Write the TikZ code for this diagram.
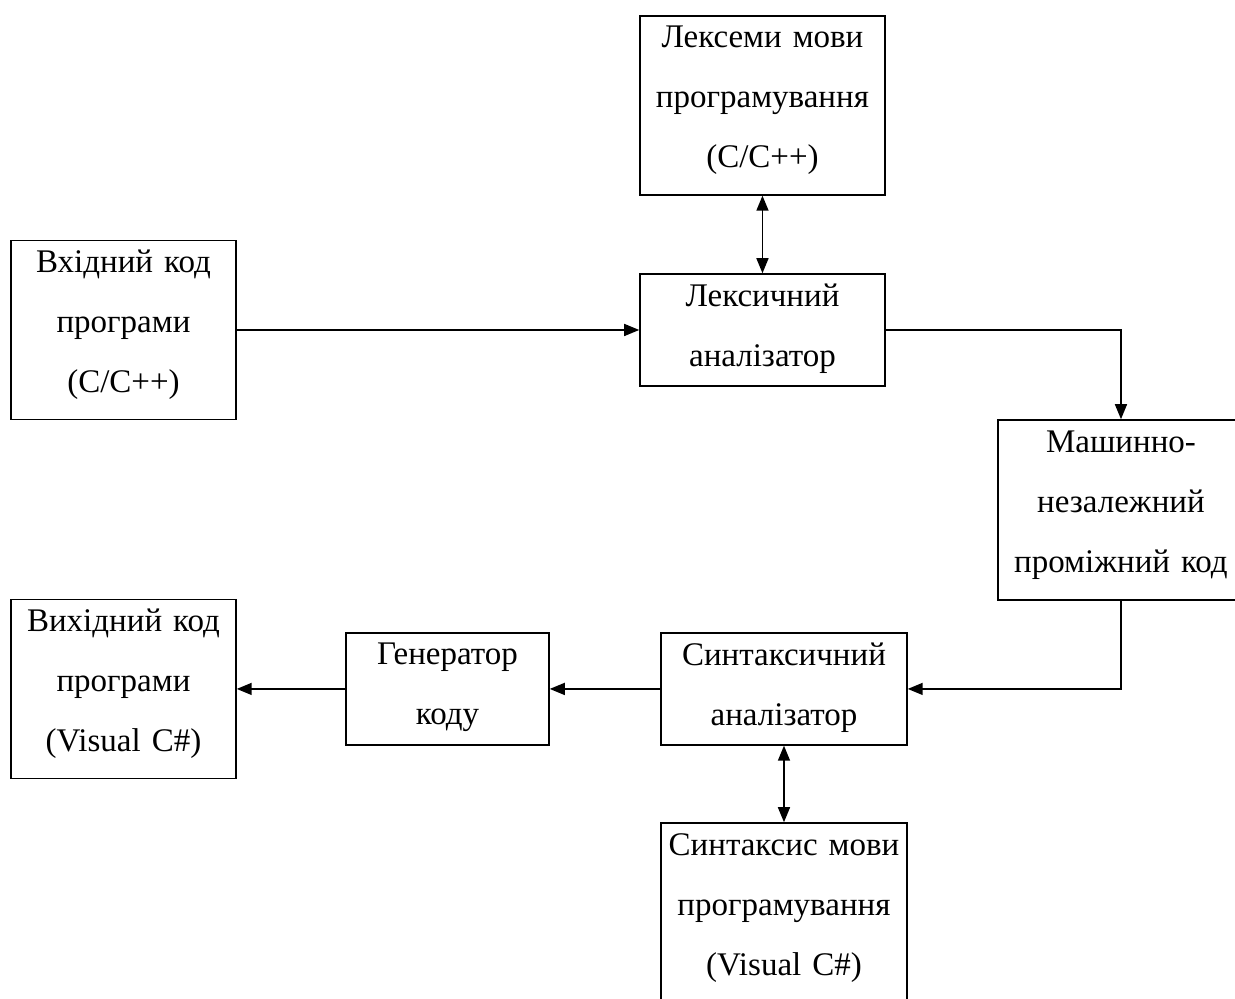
\documentclass[tikz,border=0pt]{standalone}
\usepackage{fontspec}
\setmainfont{Liberation Serif}
\usetikzlibrary{arrows.meta}

\tikzset{
  block/.style 2 args={draw,line width=0.75pt,inner sep=0pt,align=center,
    minimum width=#1,text width=#1,minimum height=#2,
    font=\fontsize{16.5}{30}\selectfont},
  tall/.style={execute at end node={\par\vspace{5pt}}},
  short/.style={execute at end node={\par\vspace{1.5pt}}},
}

\begin{document}
\begin{tikzpicture}[>={Triangle[length=7.5pt,width=6pt]},line width=0.75pt]
    \useasboundingbox (0,0) rectangle (21.703,17.555);

    \node[block={112.5pt}{89.5pt},tall] (src) at (2.170,11.756) {Вхідний код\\програми\\(C/C++)};
    \node[block={122.5pt}{89.5pt},tall] (lexemes) at (13.399,15.702) {Лексеми мови\\програмування\\(C/C++)};
    \node[block={122.5pt}{56pt},short] (lexer) at (13.399,11.756) {Лексичний\\аналізатор};
    \node[block={123pt}{90pt},tall] (ir) at (19.699,8.593) {Машинно-\\незалежний\\проміжний код};
    \node[block={112.5pt}{89.5pt},tall] (out) at (2.170,5.448) {Вихідний код\\програми\\(Visual C\#)};
    \node[block={101.5pt}{56pt},short] (gen) at (7.864,5.448) {Генератор\\коду};
    \node[block={123pt}{56pt},short] (parser) at (13.777,5.448) {Синтаксичний\\аналізатор};
    \node[block={123pt}{90pt},tall] (grammar) at (13.777,1.511) {Синтаксис мови\\програмування\\(Visual C\#)};

    \draw[->] (src) -- (lexer);
    \draw[<->] (lexemes) -- (lexer);
    \draw[->] (lexer.east) -| (ir.north);
    \draw[->] (ir.south) |- (parser.east);
    \draw[->] (parser) -- (gen);
    \draw[->] (gen) -- (out);
    \draw[<->] (parser) -- (grammar);

\end{tikzpicture}
\end{document}
